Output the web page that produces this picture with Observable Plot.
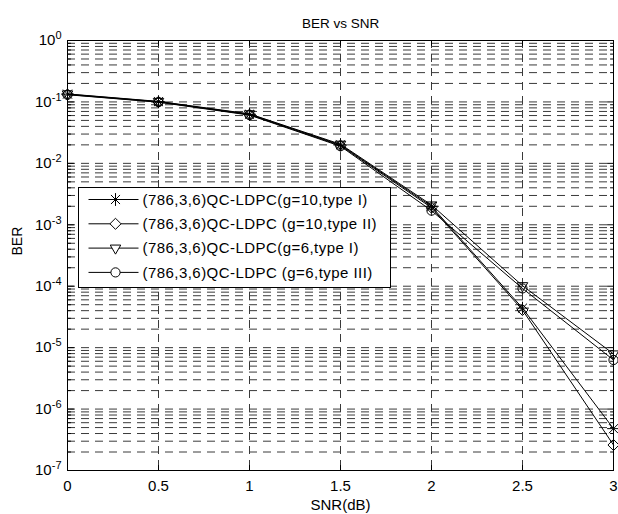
<!DOCTYPE html>
<html><head><meta charset="utf-8">
<script src="https://cdn.jsdelivr.net/npm/d3@7"></script>
<script src="https://cdn.jsdelivr.net/npm/@observablehq/plot@0.6"></script>
<style>
body{margin:0;background:#fff}
#chart{width:618px;height:514px;position:relative}
</style>
</head><body><div id="chart"></div>
<script>
// ---- data ----
const snr = [0, 0.5, 1, 1.5, 2, 2.5, 3];
const berG10TypeI   = [0.134, 0.101, 0.063, 0.0200, 2.0e-3, 4.4e-5, 4.8e-7];
const berG10TypeII  = [0.132, 0.100, 0.062, 0.0195, 1.9e-3, 4.1e-5, 2.6e-7];
const berG6TypeI    = [0.135, 0.102, 0.064, 0.0205, 2.1e-3, 1.02e-4, 7.9e-6];
const berG6TypeIII  = [0.131, 0.099, 0.061, 0.0190, 1.7e-3, 9.2e-5, 6.3e-6];
const seriesNames = [
  "(786,3,6)QC-LDPC(g=10,type I)",
  "(786,3,6)QC-LDPC (g=10,type II)",
  "(786,3,6)QC-LDPC(g=6,type I)",
  "(786,3,6)QC-LDPC (g=6,type III)"
];
const xTicks = [0, 0.5, 1, 1.5, 2, 2.5, 3];
const xTickLabels = ["0", "0.5", "1", "1.5", "2", "2.5", "3"];
const yExponents = [0, -1, -2, -3, -4, -5, -6, -7];
const titleText = "BER vs SNR";
const xLabel = "SNR(dB)";
const yLabel = "BER";

// ---- derived ----
const allSeries = [berG10TypeI, berG10TypeII, berG6TypeI, berG6TypeIII];
const rows = seriesNames.flatMap((name, i) => snr.map((x, j) => ({series: name, idx: i, snr: x, ber: allSeries[i][j]})));
const yMajor = yExponents.map(e => Math.pow(10, e));
const yMinor = yExponents.slice(0, -1).flatMap(e => d3.range(2, 10).map(m => m * Math.pow(10, e - 1)));
const yGrid = yMajor.concat(yMinor);
const bySeries = i => rows.filter(d => d.idx === i);

const FONT = "'Liberation Sans', Arial, Helvetica, sans-serif";
const gridStyle = {stroke: "#3a3a3a", strokeOpacity: 1, strokeWidth: 1, strokeDasharray: "8,6"};
const spike = {draw(context, l) { context.moveTo(0, 0); context.lineTo(0, -l); }};
const tickStyle = {stroke: "#000", strokeWidth: 1, shape: spike, anchor: "start"};

const plot = Plot.plot({
  width: 618, height: 514,
  marginLeft: 67, marginRight: 5, marginTop: 40, marginBottom: 44,
  style: {fontFamily: FONT, fontSize: "15px", color: "#000", background: "#fff", overflow: "visible"},
  x: {domain: [0, 3]},
  y: {type: "log", domain: [1e-7, 1]},
  marks: [
    Plot.gridX(xTicks.slice(1, -1), gridStyle),
    Plot.gridY(yGrid.filter(v => v < 1 && v > 1e-7), gridStyle),
    // lines
    Plot.line(rows, {x: "snr", y: "ber", z: "series", stroke: "#000", strokeWidth: 1}),
    // markers: asterisk (plus + times)
    Plot.dot(bySeries(0), {x: "snr", y: "ber", symbol: "plus", r: 4.2, stroke: "#000", strokeWidth: 1}),
    Plot.dot(bySeries(0), {x: "snr", y: "ber", symbol: "times", r: 4.2, stroke: "#000", strokeWidth: 1}),
    Plot.dot(bySeries(1), {x: "snr", y: "ber", symbol: "diamond2", r: 5, stroke: "#000", fill: "none", strokeWidth: 1}),
    Plot.dot(bySeries(2), {x: "snr", y: "ber", symbol: "triangle2", rotate: 180, r: 5, stroke: "#000", fill: "none", strokeWidth: 1}),
    Plot.dot(bySeries(3), {x: "snr", y: "ber", symbol: "circle", r: 4.6, stroke: "#000", fill: "none", strokeWidth: 1}),
    Plot.frame({stroke: "#000", strokeWidth: 1}),
    // inward ticks
    Plot.vector(xTicks, {x: d => d, frameAnchor: "bottom", rotate: 0, length: 5, ...tickStyle}),
    Plot.vector(xTicks, {x: d => d, frameAnchor: "top", rotate: 180, length: 5, ...tickStyle}),
    Plot.vector(yMajor, {y: d => d, frameAnchor: "left", rotate: 90, length: 6, ...tickStyle}),
    Plot.vector(yMajor, {y: d => d, frameAnchor: "right", rotate: -90, length: 6, ...tickStyle}),
    Plot.vector(yMinor, {y: d => d, frameAnchor: "left", rotate: 90, length: 3, ...tickStyle}),
    Plot.vector(yMinor, {y: d => d, frameAnchor: "right", rotate: -90, length: 3, ...tickStyle}),
    // labels
    Plot.axisX(xTicks, {anchor: "bottom", tickSize: 0, tickPadding: 10, tickFormat: d => xTickLabels[xTicks.indexOf(d)], label: null}),
    Plot.axisY(yMajor, {anchor: "left", tickSize: 0, tickPadding: 6, tickFormat: d => "10|" + Math.round(Math.log10(d)), label: null}),
    Plot.text([xLabel], {frameAnchor: "bottom", dy: 39, fontSize: 15, fill: "#000"}),
    Plot.text([yLabel], {frameAnchor: "left", dx: -50, rotate: -90, fontSize: 14, fill: "#000"}),
    Plot.text([titleText], {frameAnchor: "top", dy: -22, fontSize: 13.5, fill: "#000"})
  ]
});

// superscript exponents on y tick labels
d3.select(plot).selectAll('g[aria-label="y-axis tick label"] text').each(function() {
  const t = d3.select(this);
  const parts = t.text().split("|");
  if (parts.length !== 2) return;
  t.text(null);
  t.append("tspan").text(parts[0]);
  t.append("tspan").attr("dy", "-0.55em").attr("font-size", "11px").text(parts[1]);
});

// legend (layout overlay inside the SVG)
const svg = d3.select(plot);
const lg = svg.append("g").attr("transform", "translate(78.5,187.5)");
lg.append("rect").attr("width", 312).attr("height", 100).attr("fill", "#fff").attr("stroke", "#000");
const sym = [
  [d3.symbolPlus, d3.symbolTimes],
  [d3.symbolDiamond2],
  [d3.symbolTriangle2],
  [d3.symbolCircle]
];
const sizes = [4.2, 5, 5, 4.6];
seriesNames.forEach((name, i) => {
  const y = 12 + i * 24.3;
  const row = lg.append("g").attr("transform", `translate(0,${y})`);
  row.append("line").attr("x1", 10).attr("x2", 60).attr("stroke", "#000");
  sym[i].forEach(s => {
    row.append("path")
      .attr("d", d3.symbol(s, sizes[i] * sizes[i] * Math.PI)())
      .attr("transform", `translate(37,0)` + (i === 2 ? " rotate(180)" : ""))
      .attr("fill", i === 0 ? "none" : "#fff").attr("stroke", "#000");
  });
  row.append("text").attr("x", 64).attr("dy", "0.35em").attr("text-anchor", "start")
    .attr("font-family", FONT).attr("font-size", 15).attr("letter-spacing", "0.45px")
    .attr("fill", "#000").text(name);
});

document.getElementById("chart").appendChild(plot);
</script>
</body></html>
